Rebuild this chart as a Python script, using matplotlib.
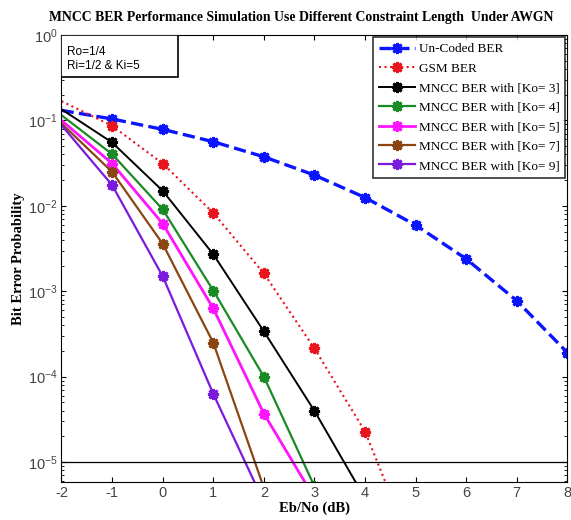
import numpy as np
import matplotlib.pyplot as plt
from matplotlib.patches import Rectangle

plt.rcParams['axes.unicode_minus'] = False

ebno = [-2, -1, 0, 1, 2, 3, 4, 5, 6, 7, 8]
uncoded = [0.131, 0.104, 0.0786, 0.0563, 0.0375, 0.0229, 0.0125, 0.00595, 0.00239, 0.000773, 0.000191]

ebno_gsm = [-2, -1, 0, 1, 2, 3, 4, 5]
gsm = [0.168, 0.0865, 0.0313, 0.00826, 0.00162, 2.14e-4, 2.28e-5, 7.7e-7]

ebno_k3 = [-2, -1, 0, 1, 2, 3, 4]
ber_k3 = [0.135, 0.0552, 0.0150, 0.00271, 3.39e-4, 3.98e-5, 3.76e-6]
ebno_k4 = [-2, -1, 0, 1, 2, 3]
ber_k4 = [0.115, 0.0403, 0.0091, 0.00102, 1.0e-4, 5.2e-6]
ebno_k5 = [-2, -1, 0, 1, 2, 3]
ber_k5 = [0.100, 0.0313, 0.0062, 6.3e-4, 3.7e-5, 3.8e-6]
ebno_k7 = [-2, -1, 0, 1, 2]
ber_k7 = [0.092, 0.025, 0.0036, 2.5e-4, 5.0e-6]
ebno_k9 = [-2, -1, 0, 1, 2]
ber_k9 = [0.088, 0.0175, 0.0015, 6.3e-5, 3.4e-6]

serif = ['Liberation Serif', 'DejaVu Serif']
sans = ['Liberation Sans', 'DejaVu Sans']
star = (8, 2, 0)

fig = plt.figure(figsize=(5.71, 5.2), dpi=100)
ax = fig.add_axes([0.1077, 0.0737, 0.886, 0.859])

ax.plot(ebno, uncoded, '--', color='#0a14ff', lw=2.4, marker=star, ms=8, mew=2,
        markevery=slice(1, None), label='Un-Coded BER')
ax.plot(ebno_gsm, gsm, ':', color='#e8141e', lw=1.5, marker=star, ms=8, mew=2,
        markevery=slice(1, None), label='GSM BER')
ax.plot(ebno_k3, ber_k3, '-', color='black', lw=1.4, marker=star, ms=8, mew=2,
        markevery=slice(1, None), label='MNCC BER with [Ko= 3]')
ax.plot(ebno_k4, ber_k4, '-', color='#1a8a24', lw=1.6, marker=star, ms=8, mew=2,
        markevery=slice(1, None), label='MNCC BER with [Ko= 4]')
ax.plot(ebno_k5, ber_k5, '-', color='#ff14ff', lw=2.0, marker=star, ms=8, mew=2,
        markevery=slice(1, None), label='MNCC BER with [Ko= 5]')
ax.plot(ebno_k7, ber_k7, '-', color='#8b4513', lw=1.6, marker=star, ms=8, mew=2,
        markevery=slice(1, None), label='MNCC BER with [Ko= 7]')
ax.plot(ebno_k9, ber_k9, '-', color='#7a1adc', lw=1.6, marker=star, ms=8, mew=2,
        markevery=slice(1, None), label='MNCC BER with [Ko= 9]')
ax.axhline(1e-5, color='black', lw=0.9)

ax.set_yscale('log')
ax.set_xlim(-2, 8)
ax.set_ylim(5.9e-6, 1)
ax.set_xticks(range(-2, 9))
ax.tick_params(which='both', direction='in', top=True, right=True)
ax.tick_params(labelsize=10.5, pad=3)
for lbl in ax.get_xticklabels() + ax.get_yticklabels():
    lbl.set_family(sans)
    lbl.set_color('#444444')

fig.text(0.527, 0.966, 'MNCC BER Performance Simulation Use Different Constraint Length  Under AWGN',
         family=serif, fontweight='bold', fontsize=9.9, ha='center', va='center')
ax.set_xlabel('Eb/No (dB)', family=serif, fontweight='bold', fontsize=10.5, labelpad=1)
ax.set_ylabel('Bit Error Probability', family=serif, fontweight='bold', fontsize=10.5, labelpad=2)

ax.add_patch(Rectangle((0, 0.9066), 0.231, 0.0934, transform=ax.transAxes,
                       fc='white', ec='black', lw=1.2, zorder=5))
ax.text(0.01, 0.963, 'Ro=1/4', transform=ax.transAxes, va='center', ha='left',
        family=sans, fontsize=8.5, zorder=6)
ax.text(0.01, 0.93, 'Ri=1/2 & Ki=5', transform=ax.transAxes, va='center', ha='left',
        family=sans, fontsize=8.5, zorder=6)

leg = ax.legend(loc='upper right', prop={'family': serif, 'size': 9.5}, frameon=True,
                fancybox=False, edgecolor='black', borderaxespad=0.15, handlelength=2.7,
                labelspacing=0.55, borderpad=0.45, handletextpad=0.3)
leg.get_frame().set_linewidth(1.2)

fig.savefig('out.png', dpi=100)
